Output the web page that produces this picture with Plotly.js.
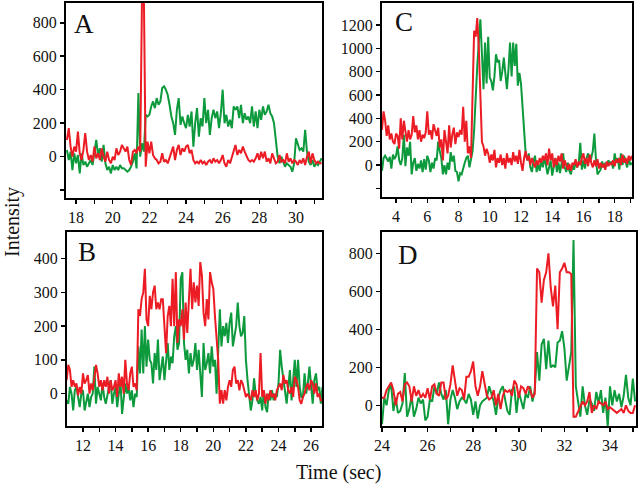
<!DOCTYPE html>
<html>
<head>
<meta charset="utf-8">
<script src="https://cdn.plot.ly/plotly-3.0.1.min.js"></script>
<style>html,body{margin:0;padding:0;background:#fff}#chart{width:640px;height:486px}</style>
</head>
<body>
<div id="chart"></div>
<script>
// ---------- Panel A ----------
const timeA = [17.5,17.6,17.7,17.8,17.9,18.0,18.1,18.2,18.3,18.4,
18.5,18.6,18.7,18.8,18.9,19.0,19.1,19.2,19.3,19.4,
19.5,19.6,19.7,19.8,19.9,20.0,20.1,20.2,20.3,20.4,
20.5,20.6,20.7,20.8,20.9,21.0,21.1,21.2,21.3,21.4,
21.5,21.6,21.7,21.8,21.9,22.0,22.1,22.2,22.3,22.4,
22.5,22.6,22.7,22.8,22.9,23.0,23.1,23.2,23.3,23.4,
23.5,23.6,23.7,23.8,23.9,24.0,24.1,24.2,24.3,24.4,
24.5,24.6,24.7,24.8,24.9,25.0,25.1,25.2,25.3,25.4,
25.5,25.6,25.7,25.8,25.9,26.0,26.1,26.2,26.3,26.4,
26.5,26.6,26.7,26.8,26.9,27.0,27.1,27.2,27.3,27.4,
27.5,27.6,27.7,27.8,27.9,28.0,28.1,28.2,28.3,28.4,
28.5,28.6,28.7,28.8,28.9,29.0,29.1,29.2,29.3,29.4,
29.5,29.6,29.7,29.8,29.9,30.0,30.1,30.2,30.3,30.4,
30.5,30.6,30.7,30.8,30.9,31.0,31.1,31.2,31.3,31.4];
const redA = [100,170,60,0,60,30,150,20,-20,40,
140,30,-20,10,-30,60,-10,20,-20,50,
0,-30,30,-20,-40,0,-20,50,10,30,
70,50,30,60,-20,-50,30,40,20,60,
30,980,960,-60,90,20,90,10,-10,-20,
-40,-30,20,-30,-20,-40,-10,20,60,-20,
40,70,10,50,30,60,70,20,40,-20,
-40,-30,-40,-20,-40,-30,-50,-30,-20,-40,
-10,-30,-20,-40,-20,10,-40,-60,-20,-40,
0,30,70,10,40,20,60,30,0,-20,
-30,-20,-30,-10,20,-20,30,-10,30,-30,
-10,-40,20,-10,-40,-30,10,-30,-20,-40,
20,-30,-10,-40,-20,-30,-50,-20,-40,-10,
-50,0,30,-40,20,-20,-40,-30,-40,-40];
const greenA = [40,-20,30,-80,20,-40,10,-100,20,-50,
-30,-60,-40,-20,-50,20,100,10,50,-30,
70,-40,-80,-60,-100,-50,-80,-60,-80,-50,
-70,-70,-80,-90,-80,-60,-30,20,-70,380,
0,80,30,250,240,250,300,330,290,350,
310,330,410,420,400,370,310,240,200,130,
280,350,190,240,200,170,250,180,270,60,
200,290,120,230,180,350,200,280,130,230,
280,230,270,170,260,400,200,250,180,220,
170,300,280,300,230,310,200,260,220,240,
200,300,180,270,170,280,220,300,250,270,
310,260,240,200,100,0,-40,0,-30,-60,
-40,-50,-60,-90,-40,110,70,40,50,30,
160,30,-30,-50,-20,-60,-40,-50,-30,-10];

// ---------- Panel B ----------
const timeB = [11.0,11.1,11.2,11.3,11.4,11.5,11.6,11.7,11.8,11.9,
12.0,12.1,12.2,12.3,12.4,12.5,12.6,12.7,12.8,12.9,
13.0,13.1,13.2,13.3,13.4,13.5,13.6,13.7,13.8,13.9,
14.0,14.1,14.2,14.3,14.4,14.5,14.6,14.7,14.8,14.9,
15.0,15.1,15.2,15.3,15.4,15.5,15.6,15.7,15.8,15.9,
16.0,16.1,16.2,16.3,16.4,16.5,16.6,16.7,16.8,16.9,
17.0,17.1,17.2,17.3,17.4,17.5,17.6,17.7,17.8,17.9,
18.0,18.1,18.2,18.3,18.4,18.5,18.6,18.7,18.8,18.9,
19.0,19.1,19.2,19.3,19.4,19.5,19.6,19.7,19.8,19.9,
20.0,20.1,20.2,20.3,20.4,20.5,20.6,20.7,20.8,20.9,
21.0,21.1,21.2,21.3,21.4,21.5,21.6,21.7,21.8,21.9,
22.0,22.1,22.2,22.3,22.4,22.5,22.6,22.7,22.8,22.9,
23.0,23.1,23.2,23.3,23.4,23.5,23.6,23.7,23.8,23.9,
24.0,24.1,24.2,24.3,24.4,24.5,24.6,24.7,24.8,24.9,
25.0,25.1,25.2,25.3,25.4,25.5,25.6,25.7,25.8,25.9,
26.0,26.1,26.2,26.3,26.4,26.5,26.6,26.7];
const redB = [40,85,70,20,40,20,30,-5,20,0,
60,30,40,55,0,30,10,50,85,60,
20,40,10,40,20,50,0,40,10,20,
40,-10,60,20,50,0,100,30,10,60,
80,20,30,10,250,230,280,300,370,220,
200,290,250,300,320,250,270,250,280,280,
180,120,230,260,200,340,200,360,150,220,
200,250,160,270,180,260,370,250,330,270,
320,260,390,350,240,200,280,220,360,330,
310,230,170,100,-30,10,-30,10,-20,20,
40,20,70,80,30,40,10,40,30,10,
-10,0,-10,-20,10,-10,10,-20,0,120,
-10,10,-30,0,-20,10,-10,0,-20,10,
20,30,10,55,30,40,10,0,20,-10,
50,40,20,-20,-30,-10,0,20,30,10,
40,30,0,30,-10,0,-20,-20];
const greenB = [-20,-30,20,0,-50,10,20,-10,-40,0,
10,-50,-20,0,-40,-10,0,80,-30,20,
0,-20,30,-10,-30,0,20,40,-30,0,
20,-40,10,40,-60,-20,30,0,20,-20,
10,-40,0,-10,140,60,190,60,200,80,
160,100,90,30,120,70,160,40,80,110,
40,110,150,70,110,90,170,200,130,150,
340,360,150,100,130,60,120,80,100,150,
70,130,60,-10,150,70,90,120,60,140,
80,100,0,150,250,140,200,170,210,150,
210,240,140,170,200,270,200,170,180,230,
100,40,0,-50,-20,45,0,-20,-30,-10,
-50,10,-40,-55,0,-20,10,-20,0,-10,
30,130,80,40,0,-30,20,70,-20,40,
100,20,100,20,-10,-10,60,0,30,80,
20,-30,40,60,10,20,-30,20];

// ---------- Panel C ----------
const timeC = [3.1,3.2,3.3,3.4,3.5,3.6,3.7,3.8,3.9,4.0,
4.1,4.2,4.3,4.4,4.5,4.6,4.7,4.8,4.9,5.0,
5.1,5.2,5.3,5.4,5.5,5.6,5.7,5.8,5.9,6.0,
6.1,6.2,6.3,6.4,6.5,6.6,6.7,6.8,6.9,7.0,
7.1,7.2,7.3,7.4,7.5,7.6,7.7,7.8,7.9,8.0,
8.1,8.2,8.3,8.4,8.5,8.6,8.7,8.8,8.9,9.0,
9.1,9.2,9.3,9.4,9.5,9.6,9.7,9.8,9.9,10.0,
10.1,10.2,10.3,10.4,10.5,10.6,10.7,10.8,10.9,11.0,
11.1,11.2,11.3,11.4,11.5,11.6,11.7,11.8,11.9,12.0,
12.1,12.2,12.3,12.4,12.5,12.6,12.7,12.8,12.9,13.0,
13.1,13.2,13.3,13.4,13.5,13.6,13.7,13.8,13.9,14.0,
14.1,14.2,14.3,14.4,14.5,14.6,14.7,14.8,14.9,15.0,
15.1,15.2,15.3,15.4,15.5,15.6,15.7,15.8,15.9,16.0,
16.1,16.2,16.3,16.4,16.5,16.6,16.7,16.8,16.9,17.0,
17.1,17.2,17.3,17.4,17.5,17.6,17.7,17.8,17.9,18.0,
18.1,18.2,18.3,18.4,18.5,18.6,18.7,18.8,18.9,19.0,
19.1];
const redC = [300,460,380,250,340,220,270,200,180,270,
250,140,400,220,380,280,200,300,220,260,
420,280,340,220,300,200,260,230,280,460,
260,300,220,350,300,250,320,150,220,40,
300,180,100,340,150,260,320,180,280,240,
300,260,500,200,380,100,160,60,500,1150,
1100,1260,1000,500,200,160,80,140,100,20,
90,40,130,-20,60,20,90,0,60,-30,
100,20,60,0,110,30,80,10,130,20,
-50,60,120,40,80,0,60,20,-20,40,
0,60,20,80,40,100,0,140,40,100,
-20,60,0,80,30,100,-30,40,0,-40,
10,-50,20,0,50,-20,30,0,60,100,
10,60,-10,90,20,-20,40,-10,50,-30,
20,-20,10,-40,30,-10,20,0,40,-10,
50,20,60,0,90,20,60,10,80,40,
80];
const greenC = [-50,60,80,50,30,70,-30,90,50,80,
160,40,0,60,260,-10,150,80,200,-80,
20,60,-50,10,-30,40,-60,50,-40,80,
40,-60,20,-30,60,40,200,120,60,-80,
0,-80,20,-40,110,30,80,-50,-60,-140,
-70,-80,-20,20,60,80,-20,50,120,300,
600,850,1050,1250,950,650,1050,700,1100,750,
720,640,760,950,880,900,720,800,920,780,
650,820,1050,760,1050,850,1040,680,790,700,
480,300,100,40,100,-20,-60,30,80,-60,
10,-50,40,-20,60,0,-80,-20,40,-90,
0,60,-60,20,-70,10,100,-20,-60,20,
-50,-80,0,-40,30,-20,20,190,-40,40,
-30,60,100,30,60,120,270,50,-80,-60,
-40,30,-20,20,-10,40,10,30,-30,100,
20,60,-40,100,0,80,30,-20,60,0,
20];

// ---------- Panel D ----------
const timeD = [24.0,24.1,24.2,24.3,24.4,24.5,24.6,24.7,24.8,24.9,
25.0,25.1,25.2,25.3,25.4,25.5,25.6,25.7,25.8,25.9,
26.0,26.1,26.2,26.3,26.4,26.5,26.6,26.7,26.8,26.9,
27.0,27.1,27.2,27.3,27.4,27.5,27.6,27.7,27.8,27.9,
28.0,28.1,28.2,28.3,28.4,28.5,28.6,28.7,28.8,28.9,
29.0,29.1,29.2,29.3,29.4,29.5,29.6,29.7,29.8,29.9,
30.0,30.1,30.2,30.3,30.4,30.5,30.6,30.7,30.8,30.9,
31.0,31.1,31.2,31.3,31.4,31.5,31.6,31.7,31.8,31.9,
32.0,32.1,32.2,32.3,32.4,32.5,32.6,32.7,32.8,32.9,
33.0,33.1,33.2,33.3,33.4,33.5,33.6,33.7,33.8,33.9,
34.0,34.1,34.2,34.3,34.4,34.5,34.6,34.7,34.8,34.9,
35.0,35.1];
const redD = [40,40,80,100,120,80,0,60,70,20,
110,120,100,20,100,50,80,40,60,40,
90,30,100,110,60,50,120,120,30,50,
110,210,130,50,90,80,30,150,150,180,
230,100,50,100,180,120,50,30,40,80,
0,60,-20,50,80,70,80,50,130,110,
40,100,90,60,100,80,40,60,720,700,
540,660,700,800,620,520,630,400,700,720,
750,700,700,690,-60,-60,-30,0,20,0,
20,70,-40,0,-20,20,10,0,20,-20,
-10,-20,-30,-40,-30,-20,-40,0,-30,-40,
-40,0];
const greenD = [-100,40,0,80,110,-30,40,-40,-30,10,
170,-60,-20,50,-60,-20,40,10,30,-80,
-60,30,20,100,60,120,60,30,80,-100,
30,80,40,-20,20,40,30,10,60,30,
-50,20,-70,0,20,30,40,100,60,20,
-50,40,80,100,30,-30,-50,80,100,-40,
70,20,-20,60,40,100,20,80,280,130,
320,350,190,340,200,210,200,330,340,390,
300,130,200,280,870,100,20,-60,100,0,
-50,30,10,-30,70,10,80,-40,40,-110,
100,0,80,20,60,-10,50,160,40,0,
140,20];

// ---------- Axis tick labels ----------
const yTicksA = [-200,0,200,400,600,800];
const yLabelsA = ['','0','200','400','600','800'];
const yTicksB = [0,100,200,300,400];
const yLabelsB = ['0','100','200','300','400'];
const yTicksC = [-200,0,200,400,600,800,1000,1200];
const yLabelsC = ['','0','200','400','600','800','1000','1200'];
const yTicksD = [0,200,400,600,800];
const yLabelsD = ['0','200','400','600','800'];
const panelLetters = ['A','B','C','D'];
const xTitle = 'Time (sec)';
const yTitle = 'Intensity';

const RED = '#ec1c24', GREEN = '#0c9a3c';
const FONT = 'Liberation Serif, Times New Roman, serif';
const W = 640, H = 486;

function line(x, y, color, xa, ya) {
  return {x: x, y: y, type: 'scatter', mode: 'lines', xaxis: xa, yaxis: ya,
    line: {color: color, width: 2}, hoverinfo: 'skip', showlegend: false};
}
const data = [
  line(timeA, greenA, GREEN, 'x', 'y'), line(timeA, redA, RED, 'x', 'y'),
  line(timeC, greenC, GREEN, 'x2', 'y2'), line(timeC, redC, RED, 'x2', 'y2'),
  line(timeB, greenB, GREEN, 'x3', 'y3'), line(timeB, redB, RED, 'x3', 'y3'),
  line(timeD, greenD, GREEN, 'x4', 'y4'), line(timeD, redD, RED, 'x4', 'y4')
];

function px2dom(a, b, size) { return [a / size, b / size]; }
function py2dom(top, bottom) { return [1 - bottom / H, 1 - top / H]; }
const tickFont = {family: FONT, size: 16, color: '#111'};
function xax(l, r, range, anchor) {
  return {domain: px2dom(l, r, W), range: range, anchor: anchor,
    showline: true, mirror: true, linecolor: '#000', linewidth: 2,
    ticks: 'outside', ticklen: 4, tickwidth: 1.5, tickcolor: '#000',
    tick0: 0, dtick: 2, showgrid: false, zeroline: false, tickfont: tickFont,
    minor: {tick0: 0, dtick: 1, ticks: 'outside', ticklen: 4, tickwidth: 1.5, tickcolor: '#000', showgrid: false},
    fixedrange: true};
}
function yax(top, bottom, range, anchor, vals, labels) {
  return {domain: py2dom(top, bottom), range: range, anchor: anchor,
    showline: true, mirror: true, linecolor: '#000', linewidth: 2,
    ticks: 'outside', ticklen: 4, tickwidth: 1.5, tickcolor: '#000',
    tickmode: 'array', tickvals: vals, ticktext: labels,
    showgrid: false, zeroline: false, tickfont: tickFont, fixedrange: true};
}

const letterFont = {family: FONT, size: 27, color: '#111'};
function letter(t, x, y) {
  return {text: t, xref: 'paper', yref: 'paper', x: x / W, y: 1 - y / H,
    xanchor: 'center', yanchor: 'middle', showarrow: false, font: letterFont};
}

const layout = {
  width: W, height: H, margin: {l: 0, r: 0, t: 0, b: 0},
  paper_bgcolor: '#fff', plot_bgcolor: '#fff', showlegend: false,
  xaxis: xax(66, 322, [17.45, 31.42], 'y'),
  yaxis: yax(3, 198, [-247, 918], 'x', yTicksA, yLabelsA),
  xaxis2: xax(382, 632, [3.1, 19.11], 'y2'),
  yaxis2: yax(3, 197, [-274, 1389], 'x2', yTicksC, yLabelsC),
  xaxis3: xax(67, 322, [11.02, 26.67], 'y3'),
  yaxis3: yax(232, 426, [-96, 479], 'x3', yTicksB, yLabelsB),
  xaxis4: xax(382, 636, [24.0, 35.14], 'y4'),
  yaxis4: yax(232, 426, [-109, 912], 'x4', yTicksD, yLabelsD),
  annotations: [
    letter(panelLetters[0], 84, 24),
    letter(panelLetters[1], 87, 252),
    letter(panelLetters[2], 404, 22),
    letter(panelLetters[3], 408, 255),
    {text: yTitle, xref: 'paper', yref: 'paper', x: 12 / W, y: 1 - 222 / H,
     xanchor: 'center', yanchor: 'middle', textangle: -90, showarrow: false,
     font: {family: FONT, size: 20, color: '#111'}},
    {text: xTitle, xref: 'paper', yref: 'paper', x: 338 / W, y: 1 - 472 / H,
     xanchor: 'center', yanchor: 'middle', showarrow: false,
     font: {family: FONT, size: 20, color: '#111'}}
  ]
};

Plotly.newPlot('chart', data, layout, {staticPlot: true, displayModeBar: false});
</script>
</body>
</html>
